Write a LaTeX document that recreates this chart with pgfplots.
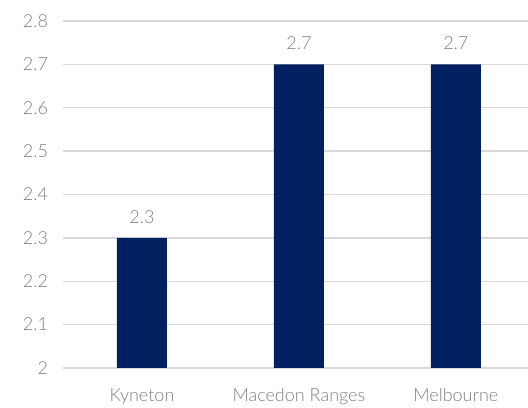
\documentclass[border=0pt]{standalone}
\usepackage{fontspec}
\setmainfont{Lato}[UprightFont=* Light]
\usepackage{pgfplots}
\pgfplotsset{compat=1.18}
\definecolor{barblue}{HTML}{002060}
\definecolor{gridgrey}{HTML}{D9D9D9}
\definecolor{txtgrey}{HTML}{7F7F7F}
\begin{document}
\begin{tikzpicture}
\begin{axis}[
  scale only axis,
  width=464.5pt, height=347pt,
  xmin=-0.5, xmax=2.46,
  ymin=2, ymax=2.8,
  ytick={2,2.1,...,2.8},
  yticklabels={2,2.1,2.2,2.3,2.4,2.5,2.6,2.7,2.8},
  xtick={0,1,2},
  xticklabels={Kyneton,Macedon Ranges,Melbourne},
  axis line style={draw=none},
  major tick length=0pt,
  ymajorgrids,
  grid style={gridgrey, line width=1.3pt},
  tick label style={font=\fontsize{18pt}{21pt}\selectfont, text=txtgrey},
  yticklabel style={xshift=-12pt},
  xticklabel style={yshift=-17pt},
  /pgf/number format/assume math mode=true,
  clip=false,
]
\addplot[ybar, bar width=50pt, fill=barblue, draw=none,
  nodes near coords,
  every node near coord/.append style={font=\fontsize{18pt}{21pt}\selectfont, text=txtgrey, yshift=11pt},
  point meta=explicit symbolic]
  coordinates {(0,2.3) [2.3] (1,2.7) [2.7] (2,2.7) [2.7]};
\coordinate (sw) at (rel axis cs:0,0);
\coordinate (ne) at (rel axis cs:1,1);
\end{axis}
\pgfresetboundingbox
\path ([shift={(-63.5pt,-40pt)}]sw) rectangle ([shift={(0pt,21pt)}]ne);
\end{tikzpicture}
\end{document}
